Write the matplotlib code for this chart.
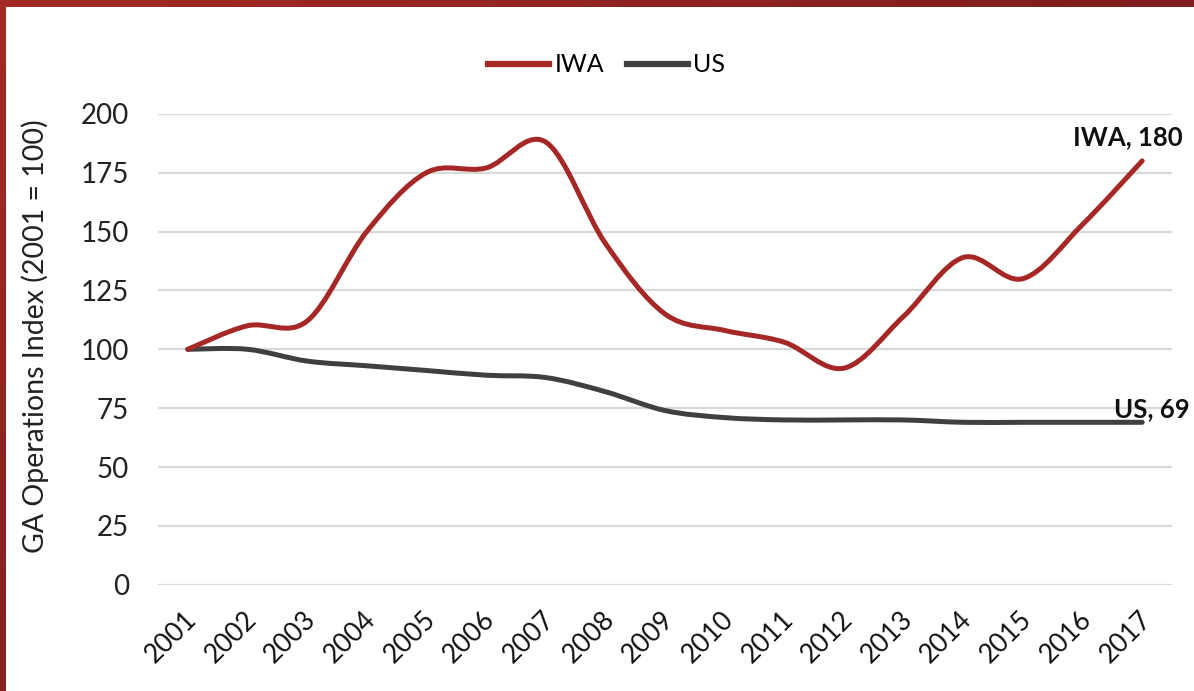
import numpy as np
import matplotlib
matplotlib.use("Agg")
import matplotlib.pyplot as plt
import matplotlib.transforms as mtransforms
from matplotlib.path import Path
from matplotlib.patches import PathPatch
from matplotlib.lines import Line2D

# ── Data ──────────────────────────────────────────────────
years = list(range(2001, 2018))
iwa = [100, 110, 112, 150, 175, 177, 188, 145, 115, 108, 103, 92, 114, 139, 130, 153, 180]
us  = [100, 100, 95, 93, 91, 89, 88, 82, 74, 71, 70, 70, 70, 69, 69, 69, 69]
year_labels = [str(y) for y in years]
yticks = [0, 25, 50, 75, 100, 125, 150, 175, 200]

IWA_COLOR = "#A52826"
US_COLOR  = "#404040"
GRID      = "#D9D9D9"

plt.rcParams["font.family"] = ["Lato", "DejaVu Sans"]


# ── Smoothed line (Excel-style bezier through the points) ─
def smooth_path(xs, ys):
    pts = np.column_stack([xs, ys]).astype(float)
    n = len(pts)
    verts = [pts[0]]
    codes = [Path.MOVETO]
    for i in range(n - 1):
        p0 = pts[i - 1] if i > 0 else pts[i]
        p1 = pts[i]
        p2 = pts[i + 1]
        p3 = pts[i + 2] if i + 2 < n else pts[i + 1]
        c1 = p1 + (p2 - p0) / 6.0
        c2 = p2 - (p3 - p1) / 6.0
        verts += [c1, c2, p2]
        codes += [Path.CURVE4] * 3
    return Path(verts, codes)


# ── Figure ────────────────────────────────────────────────
fig = plt.figure(figsize=(11.94, 6.91), dpi=100)
fig.patch.set_facecolor("white")

# red frame on top and left
top = fig.add_axes([0, 1 - 7 / 691, 1, 7 / 691])
top.imshow(np.linspace(0, 1, 256)[None, :], aspect="auto",
           cmap=matplotlib.colors.LinearSegmentedColormap.from_list("t", ["#A32A25", "#7E1E1E"]))
top.axis("off")
left = fig.add_axes([0, 0, 6 / 1194, 1])
left.imshow(np.linspace(0, 1, 256)[:, None], aspect="auto",
            cmap=matplotlib.colors.LinearSegmentedColormap.from_list("l", ["#A32A25", "#86201F"]))
left.axis("off")

ax = fig.add_axes([158 / 1194, 1 - 584.8 / 691, 1014 / 1194, 471 / 691])
ax.set_xlim(2000.5, 2017.5)
ax.set_ylim(0, 200)
ax.set_yticks(yticks)
ax.set_yticklabels([str(t) for t in yticks], fontsize=20, color="#222222")
ax.set_xticks(years)
ax.set_xticklabels(year_labels, rotation=45, ha="right", va="center",
                   rotation_mode="anchor", fontsize=19, color="#111111")
ax.tick_params(axis="both", length=0)
ax.tick_params(axis="y", pad=21)
ax.tick_params(axis="x", pad=22)
shift = mtransforms.ScaledTranslation(5 / 100, 0, fig.dpi_scale_trans)
for lab in ax.get_xticklabels():
    lab.set_transform(lab.get_transform() + shift)

for s in ax.spines.values():
    s.set_visible(False)
ax.grid(axis="y", color=GRID, linewidth=1.6)
ax.set_axisbelow(True)

ax.add_patch(PathPatch(smooth_path(years, us), facecolor="none",
                       edgecolor=US_COLOR, linewidth=3.6, capstyle="round", zorder=3))
ax.add_patch(PathPatch(smooth_path(years, iwa), facecolor="none",
                       edgecolor=IWA_COLOR, linewidth=3.6, capstyle="round", zorder=4))

ax.set_ylabel("GA Operations Index (2001 = 100)", fontsize=20.5, color="#222222",
              va="center")
ax.yaxis.set_label_coords(-0.1213, 0.528)

# end labels
ax.annotate(f"IWA, {iwa[-1]}", xy=(years[-1], iwa[-1]), xytext=(-10, 11),
            textcoords="offset points", ha="center", va="baseline",
            fontsize=18.5, fontweight="bold", color="#111111", annotation_clip=False)
ax.annotate(f"US, {us[-1]}", xy=(years[-1], us[-1]), xytext=(-20, 4),
            textcoords="offset points", ha="left", va="baseline",
            fontsize=18.5, fontweight="bold", color="#111111", annotation_clip=False)

# legend
handles = [Line2D([], [], color=IWA_COLOR, linewidth=4.5),
           Line2D([], [], color=US_COLOR, linewidth=4.5)]
fig.legend(handles, ["IWA", "US"], loc="center", bbox_to_anchor=(0.508, 0.906),
           ncol=2, frameon=False, fontsize=18, handlelength=2.45,
           handletextpad=0.2, columnspacing=0.9)

fig.savefig("out.png", dpi=100, facecolor="white")
